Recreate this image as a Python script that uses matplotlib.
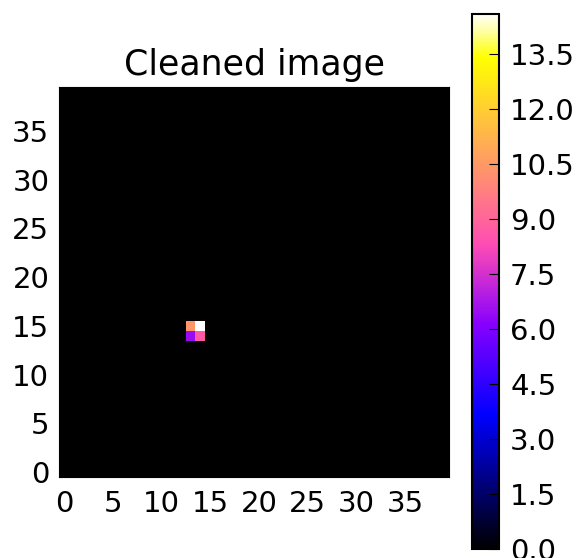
import numpy as np
import matplotlib
matplotlib.use("Agg")
import matplotlib.pyplot as plt

# cleaned 40x40 frame: everything zero except a 2x2 blob
size = 40
blob_x = [13, 14, 13, 14]
blob_y = [15, 15, 14, 14]
blob_val = [10.4, 14.6, 6.5, 8.7]

img = np.zeros((size, size))
for x, y, v in zip(blob_x, blob_y, blob_val):
    img[y, x] = v

cbar_ticks = [0.0, 1.5, 3.0, 4.5, 6.0, 7.5, 9.0, 10.5, 12.0, 13.5]

plt.rcParams['font.family'] = 'DejaVu Sans'
plt.rcParams['font.size'] = 21

fig = plt.figure(figsize=(5.77, 5.58), dpi=100)
ax = fig.add_axes([59/577, 81/558, 390/577, 390/558])
cax = fig.add_axes([472/577, 9/558, 27/577, 535/558])

im = ax.imshow(img, origin='lower', cmap='gnuplot2', interpolation='nearest',
               vmin=0, vmax=img.max())
ax.set_xticks(np.arange(0, 40, 5))
ax.set_yticks(np.arange(0, 40, 5))
ax.tick_params(direction='in', length=4, top=True, right=True)
ax.tick_params(axis='x', pad=9)
ax.tick_params(axis='y', pad=7)
ax.set_title("Cleaned image", fontsize=25, pad=9)

cb = fig.colorbar(im, cax=cax, ticks=cbar_ticks)
cb.ax.tick_params(direction='in', length=7, pad=8)
cb.ax.yaxis.set_major_formatter(matplotlib.ticker.FormatStrFormatter('%.1f'))
cb.outline.set_linewidth(1.5)

fig.savefig("out.png", dpi=100, facecolor='white')
